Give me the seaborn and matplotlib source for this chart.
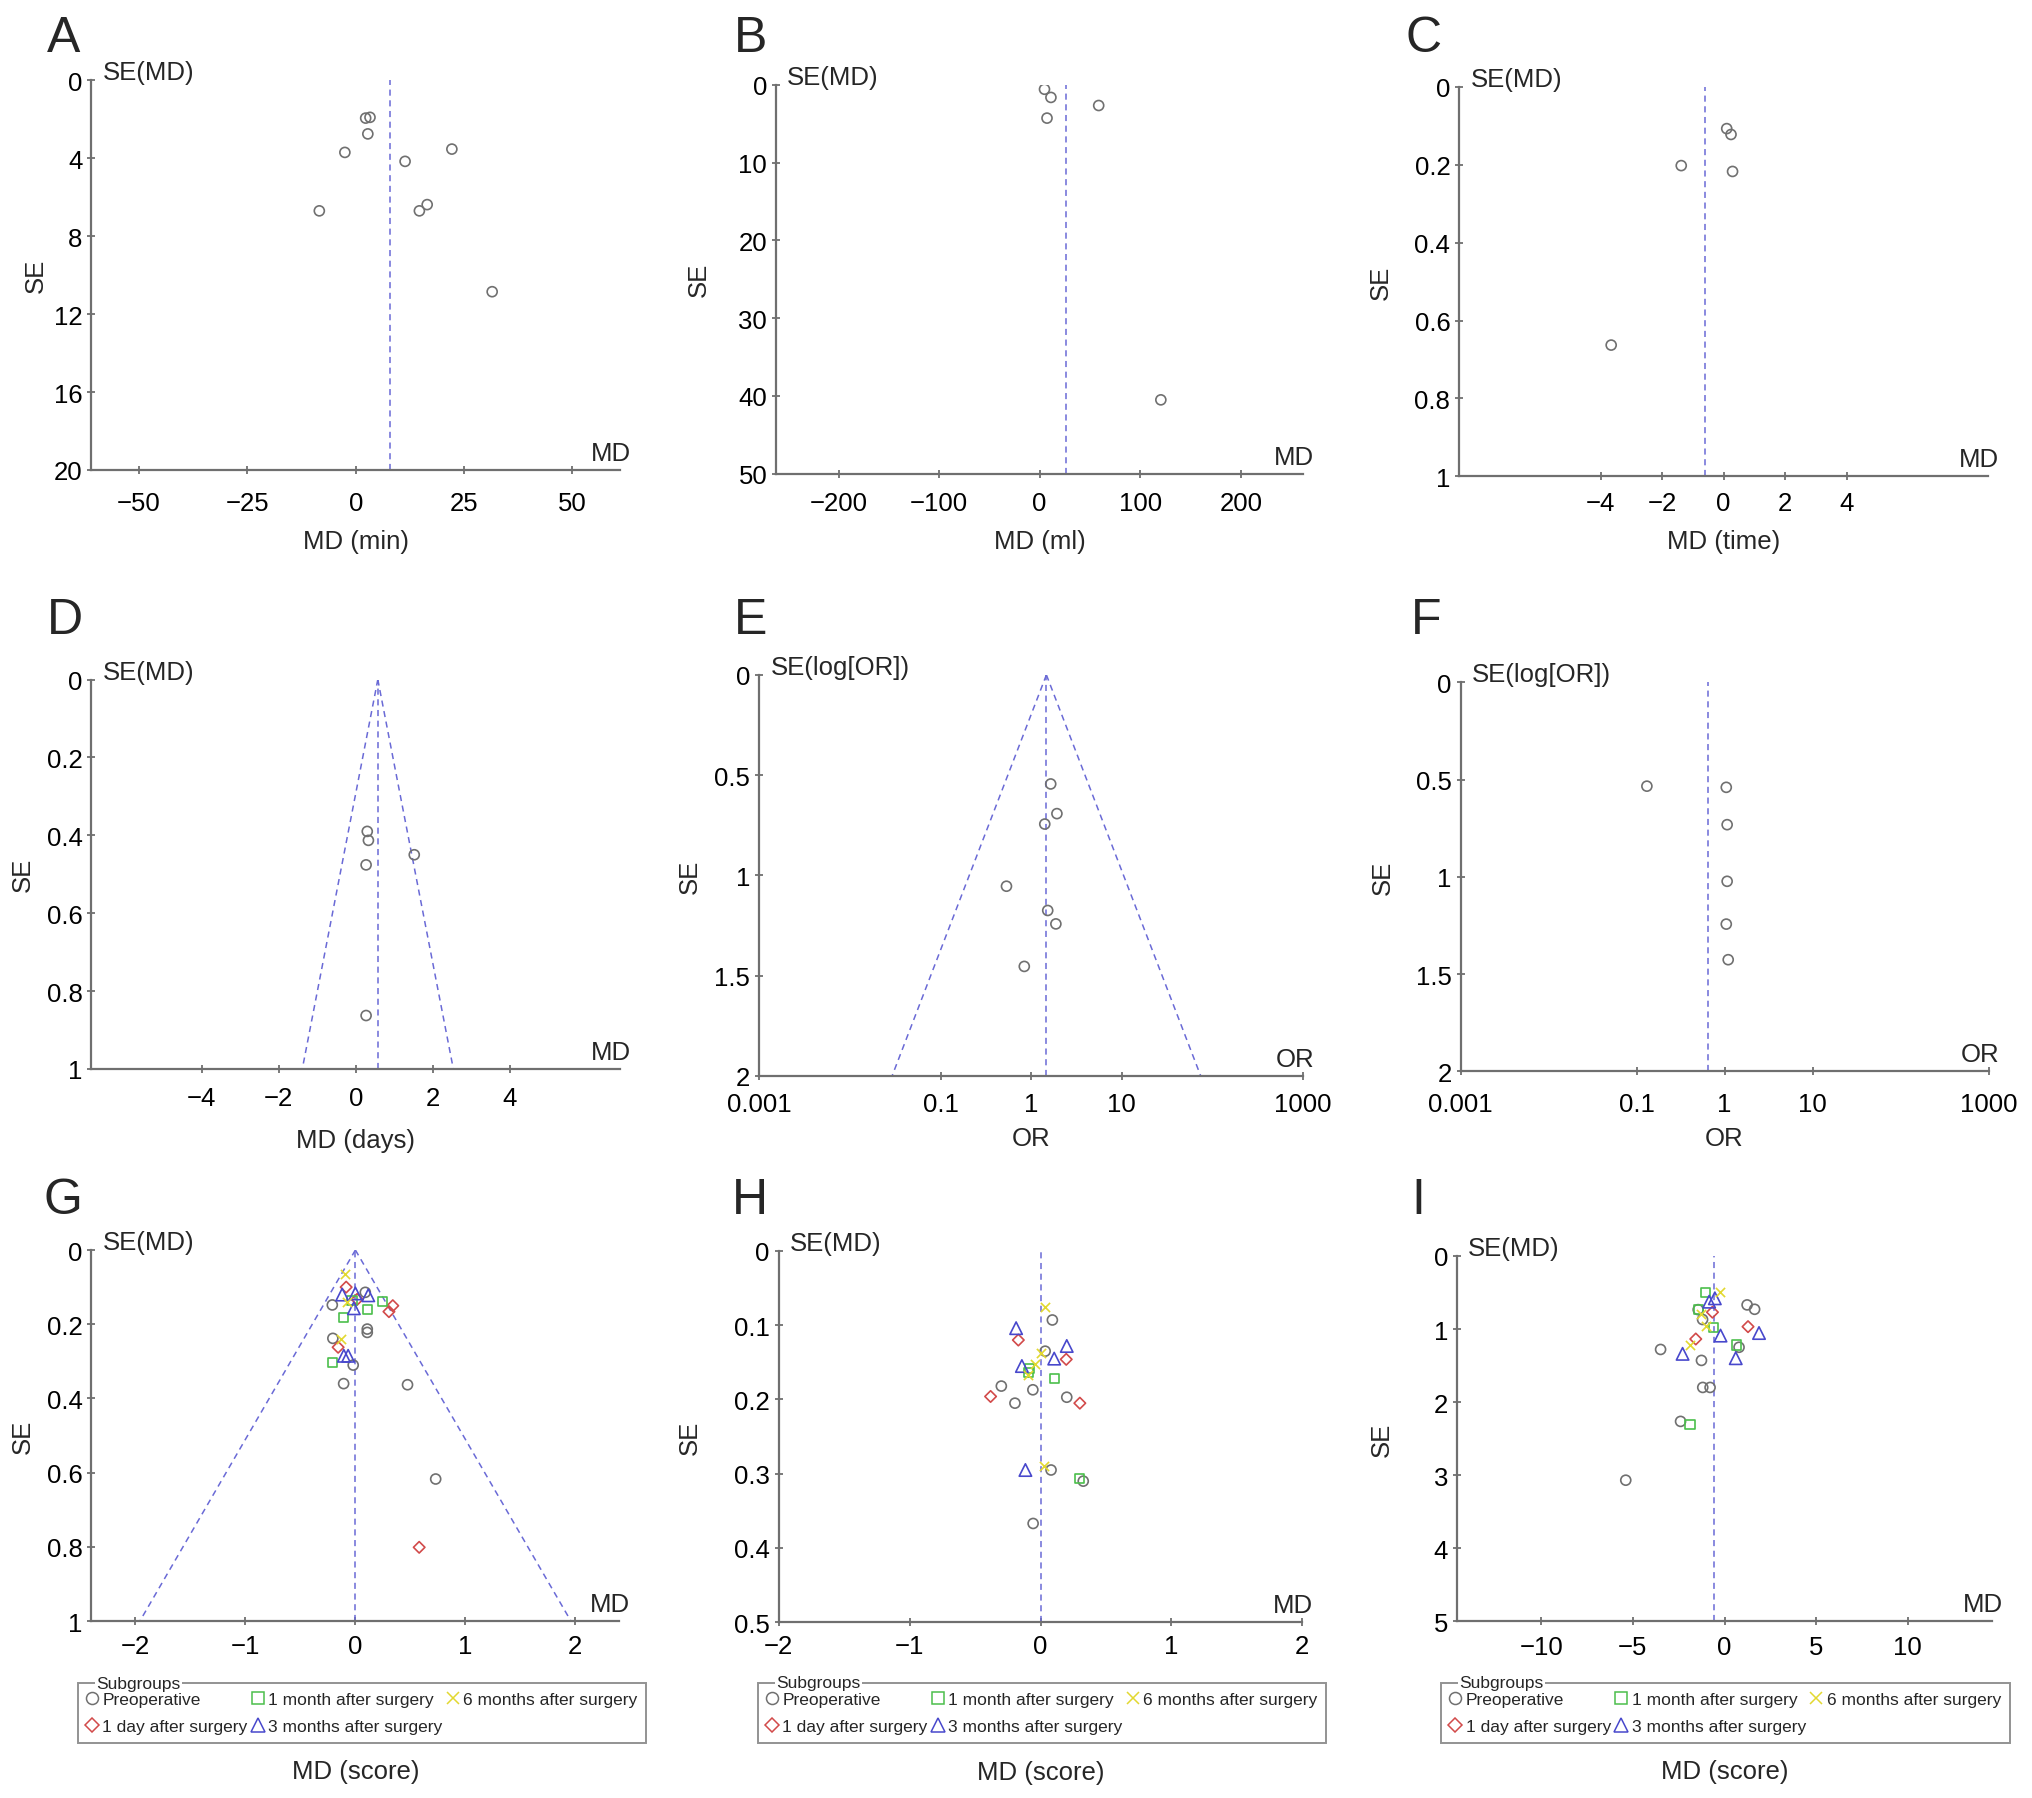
import numpy as np
import pandas as pd
import seaborn as sns
import matplotlib.pyplot as plt
from matplotlib.lines import Line2D
from matplotlib.ticker import FuncFormatter, NullLocator

# ---- data ----
# A: operative time (min)
a_md = [2.3, 3.3, 2.8, -2.5, 11.4, 22.2, -8.4, 14.7, 16.5, 31.5]
a_se = [1.94, 1.90, 2.75, 3.70, 4.16, 3.53, 6.70, 6.70, 6.38, 10.85]
a_pool = 8.0
# B: blood loss (ml)
b_md = [4.8, 11.2, 7.3, 58.7, 120.5]
b_se = [0.57, 1.62, 4.28, 2.66, 40.5]
b_pool = 25.9
# C: time
c_md = [0.10, 0.24, -1.38, 0.29, -3.66]
c_se = [0.107, 0.122, 0.202, 0.217, 0.663]
c_pool = -0.61
# D: days
d_md = [0.30, 0.33, 0.27, 1.52, 0.27]
d_se = [0.390, 0.413, 0.476, 0.450, 0.863]
d_pool = 0.574
# E: odds ratios
e_or = [1.64, 1.92, 1.41, 0.533, 1.52, 1.87, 0.838]
e_se = [0.544, 0.692, 0.744, 1.054, 1.175, 1.242, 1.454]
e_pool = 1.47
# F: odds ratios
f_or = [0.131, 1.046, 1.07, 1.07, 1.046, 1.10]
f_se = [0.534, 0.540, 0.732, 1.023, 1.243, 1.426]
f_pool = 0.653

subgroups = ['Preoperative', '1 day after surgery', '1 month after surgery',
             '3 months after surgery', '6 months after surgery']

# G: score
g_pre_md = [-0.21, 0.09, 0.108, 0.108, -0.205, -0.02, -0.107, 0.474, 0.73]
g_pre_se = [0.148, 0.114, 0.213, 0.222, 0.238, 0.31, 0.36, 0.363, 0.617]
g_d1_md = [-0.084, 0.016, 0.34, 0.305, -0.157, 0.58]
g_d1_se = [0.100, 0.133, 0.150, 0.166, 0.262, 0.801]
g_m1_md = [-0.03, 0.25, 0.108, -0.105, -0.205]
g_m1_se = [0.137, 0.138, 0.161, 0.181, 0.303]
g_m3_md = [-0.12, 0.0, 0.117, -0.014, -0.105, -0.066]
g_m3_se = [0.120, 0.117, 0.122, 0.157, 0.285, 0.285]
g_m6_md = [-0.09, -0.08, -0.135]
g_m6_se = [0.065, 0.140, 0.240]
g_pool = 0.0

# H: score
h_pre_md = [0.09, 0.035, -0.30, -0.059, -0.196, 0.20, 0.08, 0.326, -0.057]
h_pre_se = [0.093, 0.135, 0.182, 0.187, 0.205, 0.197, 0.295, 0.310, 0.367]
h_d1_md = [-0.17, -0.382, 0.196, 0.30]
h_d1_se = [0.120, 0.196, 0.146, 0.205]
h_m1_md = [-0.085, -0.093, 0.104, 0.30]
h_m1_se = [0.158, 0.164, 0.172, 0.306]
h_m3_md = [-0.187, 0.20, 0.104, -0.143, -0.116]
h_m3_se = [0.104, 0.128, 0.145, 0.155, 0.295]
h_m6_md = [0.035, 0.0, -0.04, -0.10, 0.023]
h_m6_se = [0.076, 0.137, 0.152, 0.167, 0.290]
h_pool = 0.0

# I: score
i_pre_md = [1.23, 1.64, -1.44, -1.2, 0.79, -3.49, -1.26, -1.19, -0.79, -2.4, -5.39]
i_pre_se = [0.67, 0.73, 0.735, 0.87, 1.25, 1.28, 1.43, 1.80, 1.80, 2.265, 3.07]
i_d1_md = [-0.66, 1.28, -1.57]
i_d1_se = [0.77, 0.968, 1.137]
i_m1_md = [-1.02, -1.44, -0.62, 0.65, -1.89]
i_m1_se = [0.50, 0.735, 0.977, 1.22, 2.31]
i_m3_md = [-0.53, -0.84, -0.22, 1.88, -2.29, 0.61]
i_m3_se = [0.58, 0.626, 1.09, 1.055, 1.34, 1.40]
i_m6_md = [-0.26, -1.3, -1.02, -1.89]
i_m6_se = [0.50, 0.80, 0.955, 1.22]
i_pool = -0.56

# ---- style ----
sns.set_theme(style='white')
plt.rcParams['font.family'] = ['Liberation Sans', 'DejaVu Sans']
plt.rcParams['axes.unicode_minus'] = True

W, H = 2032, 1799
FS = 18.5
AX_GRAY = '#6f6f6f'
PT_GRAY = '#707070'
DASH = '#6a6ad6'
sub_markers = ['o', 'D', 's', '^', 'x']
sub_colors = ['#707070', '#d24a4a', '#4cbf4c', '#4848cc', '#e2d830']
sub_sizes = [52, 34, 44, 80, 44]

fig = plt.figure(figsize=(W / 100, H / 100), dpi=100)


def make_axes(rect, xpad):
    ax = fig.add_axes(rect)
    ax.set_facecolor('none')
    sns.despine(ax=ax)
    for side in ['left', 'bottom']:
        ax.spines[side].set_color(AX_GRAY)
        ax.spines[side].set_linewidth(1.6)
    ax.tick_params(bottom=True, left=True, direction='inout', length=6, width=1.3,
                   color=AX_GRAY, labelsize=FS, labelcolor='black')
    ax.tick_params(axis='x', pad=xpad)
    ax.tick_params(axis='y', pad=3.5)
    ax.yaxis.set_major_formatter(FuncFormatter(lambda v, p: '%g' % v))
    return ax


def add_labels(ax, rect, xlabel, top_label, right_label, xoff, yoff):
    wpx, hpx = rect[2] * W, rect[3] * H
    ax.set_xlabel(xlabel, fontsize=FS)
    ax.xaxis.set_label_coords(0.5, -xoff / hpx)
    ax.xaxis.label.set_va('center')
    ax.set_ylabel('SE', fontsize=FS)
    ax.yaxis.set_label_coords(-yoff / wpx, 0.5)
    ax.yaxis.label.set_va('center')
    ax.annotate(top_label, xy=(0, 1), xycoords='axes fraction', xytext=(11, 1),
                textcoords='offset pixels', ha='left', va='baseline', fontsize=FS)
    ax.annotate(right_label, xy=(1, 0), xycoords='axes fraction', xytext=(11, 10),
                textcoords='offset pixels', ha='right', va='baseline', fontsize=FS)


def draw_points(ax, x, y, marker='o', color=PT_GRAY, size=52):
    if marker == 'x':
        sns.scatterplot(x=x, y=y, ax=ax, marker=marker, s=size, color=color,
                        linewidth=1.2, legend=False, zorder=3)
    else:
        sns.scatterplot(x=x, y=y, ax=ax, marker=marker, s=size, facecolor='none',
                        edgecolor=color, linewidth=1.2, legend=False, zorder=3)


def draw_center(ax, pool):
    ax.axvline(pool, color=DASH, lw=1.1, ls=(0, (4, 3)), zorder=1)


def draw_funnel(ax, pool, se_max, log=False):
    se = np.array([0.0, se_max])
    for sign in (-1, 1):
        if log:
            xs = pool * np.exp(sign * 1.96 * se)
        else:
            xs = pool + sign * 1.96 * se
        sns.lineplot(x=xs, y=se, ax=ax, sort=False, estimator=None, color=DASH,
                     lw=1.1, ls=(0, (4, 3)), zorder=1)


def letter(text, xpx, ypx):
    fig.text(xpx / W, 1 - ypx / H, text, fontsize=36, ha='left', va='baseline')


# ---- A ----
rA = [0.0450, 0.7382, 0.2601, 0.2166]
ax = make_axes(rA, 12.0)
draw_center(ax, a_pool)
draw_points(ax, a_md, a_se)
ax.set_xlim(-61, 61)
ax.set_xticks([-50, -25, 0, 25, 50])
ax.set_ylim(20, 0)
ax.set_yticks([0, 4, 8, 12, 16, 20])
add_labels(ax, rA, 'MD (min)', 'SE(MD)', 'MD', 71, 56)
letter('A', 47, 52)

# ---- B ----
rB = [0.3820, 0.7361, 0.2593, 0.2162]
ax = make_axes(rB, 9.3)
draw_center(ax, b_pool)
draw_points(ax, b_md, b_se)
ax.set_xlim(-262, 262)
ax.set_xticks([-200, -100, 0, 100, 200])
ax.set_ylim(50, 0)
ax.set_yticks([0, 10, 20, 30, 40, 50])
add_labels(ax, rB, 'MD (ml)', 'SE(MD)', 'MD', 67, 77)
letter('B', 734, 52)

# ---- C ----
rC = [0.7182, 0.7347, 0.2601, 0.2164]
ax = make_axes(rC, 7.8)
draw_center(ax, c_pool)
draw_points(ax, c_md, c_se)
ax.set_xlim(-8.6, 8.6)
ax.set_xticks([-4, -2, 0, 2, 4])
ax.set_ylim(1, 0)
ax.set_yticks([0, 0.2, 0.4, 0.6, 0.8, 1])
add_labels(ax, rC, 'MD (time)', 'SE(MD)', 'MD', 65, 79)
letter('C', 1405, 52)

# ---- D ----
rD = [0.0450, 0.4053, 0.2601, 0.2164]
ax = make_axes(rD, 9.1)
draw_center(ax, d_pool)
draw_funnel(ax, d_pool, 1.0)
draw_points(ax, d_md, d_se)
ax.set_xlim(-6.86, 6.86)
ax.set_xticks([-4, -2, 0, 2, 4])
ax.set_ylim(1, 0)
ax.set_yticks([0, 0.2, 0.4, 0.6, 0.8, 1])
add_labels(ax, rD, 'MD (days)', 'SE(MD)', 'MD', 71, 69)
letter('D', 47, 634)

# ---- E ----
rE = [0.3737, 0.4014, 0.2676, 0.2229]
ax = make_axes(rE, 8.4)
ax.set_xscale('log')
draw_center(ax, e_pool)
draw_funnel(ax, e_pool, 2.0, log=True)
draw_points(ax, e_or, e_se)
ax.set_xlim(0.001, 1000)
ax.set_xticks([0.001, 0.1, 1, 10, 1000])
ax.set_xticklabels(['0.001', '0.1', '1', '10', '1000'])
ax.xaxis.set_minor_locator(NullLocator())
ax.set_ylim(2, 0)
ax.set_yticks([0, 0.5, 1, 1.5, 2])
add_labels(ax, rE, 'OR', 'SE(log[OR])', 'OR', 62, 70)
letter('E', 734, 634)

# ---- F ----
rF = [0.7188, 0.4039, 0.2598, 0.2163]
ax = make_axes(rF, 12.0)
ax.set_xscale('log')
draw_center(ax, f_pool)
draw_points(ax, f_or, f_se)
ax.set_xlim(0.001, 1000)
ax.set_xticks([0.001, 0.1, 1, 10, 1000])
ax.set_xticklabels(['0.001', '0.1', '1', '10', '1000'])
ax.xaxis.set_minor_locator(NullLocator())
ax.set_ylim(2, 0)
ax.set_yticks([0, 0.5, 1, 1.5, 2])
add_labels(ax, rF, 'OR', 'SE(log[OR])', 'OR', 67, 78)
letter('F', 1411, 634)

# ---- G, H, I (subgroups) ----
legends = []


def subgroup_panel(rect, xpad, groups, pool, funnel, xlim, xticks, ylim, yticks,
                   yoff, leg_anchor, let, lx):
    ax = make_axes(rect, xpad)
    draw_center(ax, pool)
    if funnel:
        draw_funnel(ax, pool, ylim)
    for (md, se), m, c, s in zip(groups, sub_markers, sub_colors, sub_sizes):
        draw_points(ax, md, se, marker=m, color=c, size=s)
    ax.set_xlim(*xlim)
    ax.set_xticks(xticks)
    ax.set_ylim(ylim, 0)
    ax.set_yticks(yticks)
    add_labels(ax, rect, 'MD (score)', 'SE(MD)', 'MD', 150, yoff)
    handles = [Line2D([], [], marker=m, ls='none', markersize=1.2 * np.sqrt(s),
                      markerfacecolor='none' if m != 'x' else c,
                      markeredgecolor=c, markeredgewidth=1.1)
               for m, c, s in zip(sub_markers, sub_colors, sub_sizes)]
    leg = ax.legend(handles, subgroups, ncol=3, loc='upper left',
                    bbox_to_anchor=leg_anchor, bbox_transform=ax.transAxes,
                    frameon=True, fancybox=False, edgecolor='#777777',
                    fontsize=12.5, handlelength=0.6, handletextpad=0.3,
                    columnspacing=0.3, borderpad=0.5, borderaxespad=0,
                    labelspacing=0.7)
    leg.get_frame().set_linewidth(1.4)
    legends.append(leg)
    letter(let, lx, 1214)


rG = [0.0450, 0.0983, 0.2598, 0.2063]
subgroup_panel(rG, 6.2,
               [(g_pre_md, g_pre_se), (g_d1_md, g_d1_se), (g_m1_md, g_m1_se),
                (g_m3_md, g_m3_se), (g_m6_md, g_m6_se)],
               g_pool, True, (-2.4, 2.4), [-2, -1, 0, 1, 2], 1,
               [0, 0.2, 0.4, 0.6, 0.8, 1], 69, (-0.0256, -0.167), 'G', 43)

rH = [0.3833, 0.0977, 0.2576, 0.2064]
subgroup_panel(rH, 5.4,
               [(h_pre_md, h_pre_se), (h_d1_md, h_d1_se), (h_m1_md, h_m1_se),
                (h_m3_md, h_m3_se), (h_m6_md, h_m6_se)],
               h_pool, False, (-2, 2), [-2, -1, 0, 1, 2], 0.5,
               [0, 0.1, 0.2, 0.3, 0.4, 0.5], 89, (-0.040, -0.163), 'H', 732)

rI = [0.7170, 0.0983, 0.2634, 0.2030]
subgroup_panel(rI, 7.0,
               [(i_pre_md, i_pre_se), (i_d1_md, i_d1_se), (i_m1_md, i_m1_se),
                (i_m3_md, i_m3_se), (i_m6_md, i_m6_se)],
               i_pool, False, (-14.6, 14.6), [-10, -5, 0, 5, 10], 5,
               [0, 1, 2, 3, 4, 5], 75, (-0.029, -0.169), 'I', 1411)

# legend titles sit on the frame's top edge
fig.canvas.draw()
for leg in legends:
    bb = leg.get_frame().get_window_extent()
    fig.text((bb.x0 + 18) / W, bb.y1 / H, 'Subgroups', fontsize=12.5,
             ha='left', va='center',
             bbox=dict(facecolor='white', edgecolor='none', pad=1))

fig.savefig('out.png', dpi=100)
